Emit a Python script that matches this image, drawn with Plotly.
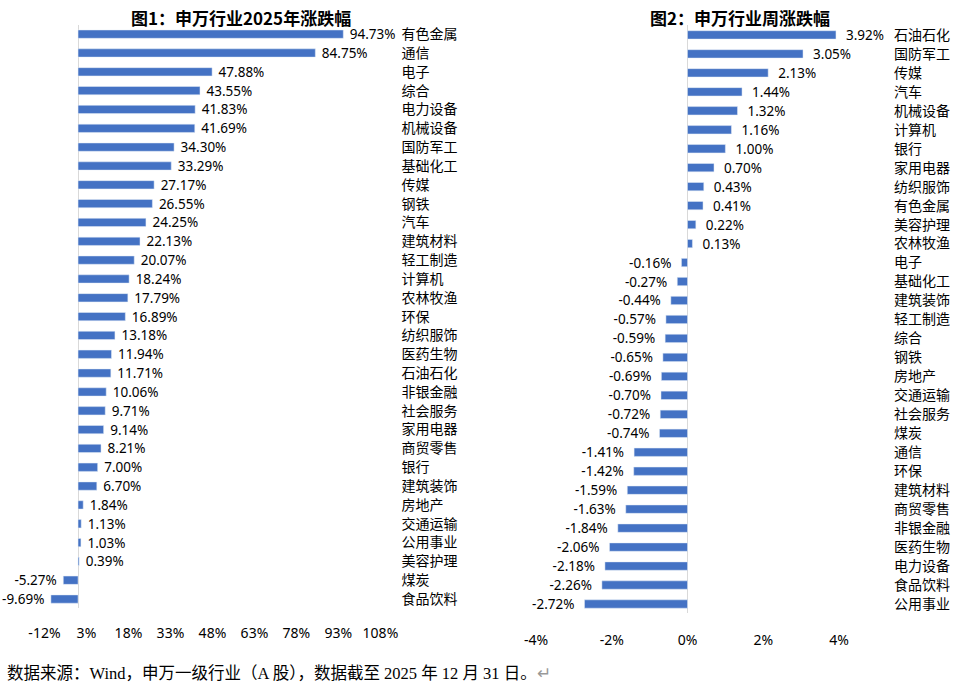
import plotly.graph_objects as go

# 图1 data
cats1 = ["有色金属", "通信", "电子", "综合", "电力设备", "机械设备", "国防军工", "基础化工",
         "传媒", "钢铁", "汽车", "建筑材料", "轻工制造", "计算机", "农林牧渔", "环保",
         "纺织服饰", "医药生物", "石油石化", "非银金融", "社会服务", "家用电器", "商贸零售",
         "银行", "建筑装饰", "房地产", "交通运输", "公用事业", "美容护理", "煤炭", "食品饮料"]
vals1 = [94.73, 84.75, 47.88, 43.55, 41.83, 41.69, 34.30, 33.29, 27.17, 26.55, 24.25, 22.13,
         20.07, 18.24, 17.79, 16.89, 13.18, 11.94, 11.71, 10.06, 9.71, 9.14, 8.21, 7.00,
         6.70, 1.84, 1.13, 1.03, 0.39, -5.27, -9.69]
ticks1 = [-12, 3, 18, 33, 48, 63, 78, 93, 108]

# 图2 data
cats2 = ["石油石化", "国防军工", "传媒", "汽车", "机械设备", "计算机", "银行", "家用电器",
         "纺织服饰", "有色金属", "美容护理", "农林牧渔", "电子", "基础化工", "建筑装饰",
         "轻工制造", "综合", "钢铁", "房地产", "交通运输", "社会服务", "煤炭", "通信", "环保",
         "建筑材料", "商贸零售", "非银金融", "医药生物", "电力设备", "食品饮料", "公用事业"]
vals2 = [3.92, 3.05, 2.13, 1.44, 1.32, 1.16, 1.00, 0.70, 0.43, 0.41, 0.22, 0.13, -0.16,
         -0.27, -0.44, -0.57, -0.59, -0.65, -0.69, -0.70, -0.72, -0.74, -1.41, -1.42,
         -1.59, -1.63, -1.84, -2.06, -2.18, -2.26, -2.72]
ticks2 = [-4, -2, 0, 2, 4]

BAR = "#4472C4"
FONT = "Noto Sans CJK SC"
LABEL_FONT = "Noto Sans, " + FONT
NB = "\u00a0"


def label(v, pad):
    s = f"{v:.2f}%"
    return NB * pad + s if v >= 0 else s + NB * pad


fig = go.Figure()
fig.add_trace(go.Bar(x=vals1, y=cats1, orientation="h", marker_color=BAR,
                     text=[label(v, 1) for v in vals1], textposition="outside",
                     cliponaxis=False, constraintext="none",
                     textfont=dict(size=13.5, color="#000", family=LABEL_FONT),
                     xaxis="x", yaxis="y", hoverinfo="skip"))
fig.add_trace(go.Bar(x=vals2, y=cats2, orientation="h", marker_color=BAR,
                     text=[label(v, 2) for v in vals2], textposition="outside",
                     cliponaxis=False, constraintext="none",
                     textfont=dict(size=13.5, color="#000", family=LABEL_FONT),
                     xaxis="x2", yaxis="y2", hoverinfo="skip"))

axis_font = dict(size=14, color="#000", family=LABEL_FONT)
cat_font = dict(size=14, color="#000", family=FONT)
fig.update_layout(
    width=979, height=687,
    margin=dict(l=0, r=0, t=0, b=0),
    paper_bgcolor="white", plot_bgcolor="white",
    showlegend=False, bargap=0.56,
    font=dict(family=FONT, color="#000"),
    xaxis=dict(domain=[0.0454, 0.3886], range=[-12, 108], tickmode="array",
               tickvals=ticks1, ticktext=[f"{t}%" for t in ticks1],
               showgrid=False, zeroline=True, zerolinecolor="#d9d9d9",
               zerolinewidth=1, showline=False, tickfont=axis_font, ticks="outside",
               ticklen=12, tickcolor="rgba(0,0,0,0)", automargin=False),
    yaxis=dict(domain=[0.1143, 0.964], anchor="x", autorange="reversed", side="right",
               showgrid=False, showline=False, ticks="", ticklabelstandoff=20,
               automargin=False, tickfont=cat_font),
    xaxis2=dict(domain=[0.5475, 0.857], range=[-4, 4], tickmode="array",
                tickvals=ticks2, ticktext=[f"{t}%" for t in ticks2],
                showgrid=False, zeroline=True, zerolinecolor="#d9d9d9",
                zerolinewidth=1, showline=False, tickfont=axis_font, ticks="outside",
                ticklen=14, tickcolor="rgba(0,0,0,0)", anchor="y2", automargin=False),
    yaxis2=dict(domain=[0.107, 0.963], anchor="x2", autorange="reversed", side="right",
                showgrid=False, showline=False, ticks="", ticklabelstandoff=54,
                automargin=False, tickfont=cat_font),
    annotations=[
        dict(text="<b>图1：申万行业2025年涨跌幅</b>", x=241/979, y=1-17/687, xref="paper",
             yref="paper", showarrow=False, xanchor="center", yanchor="middle",
             font=dict(size=17, color="#000", family=FONT)),
        dict(text="<b>图2：申万行业周涨跌幅</b>", x=740/979, y=1-17/687, xref="paper",
             yref="paper", showarrow=False, xanchor="center", yanchor="middle",
             font=dict(size=17, color="#000", family=FONT)),
        dict(text="数据来源：Wind，申万一级行业（A 股），数据截至 2025 年 12 月 31 日。<span style='color:#999'>↵</span>",
             x=5/979, y=1-673/687, xref="paper", yref="paper", showarrow=False,
             xanchor="left", yanchor="middle",
             font=dict(size=16.5, color="#000", family="Liberation Serif, " + FONT)),
    ],
)

fig.write_html("out.html", config={"displayModeBar": False},
               post_script="document.body.style.margin='0';")
